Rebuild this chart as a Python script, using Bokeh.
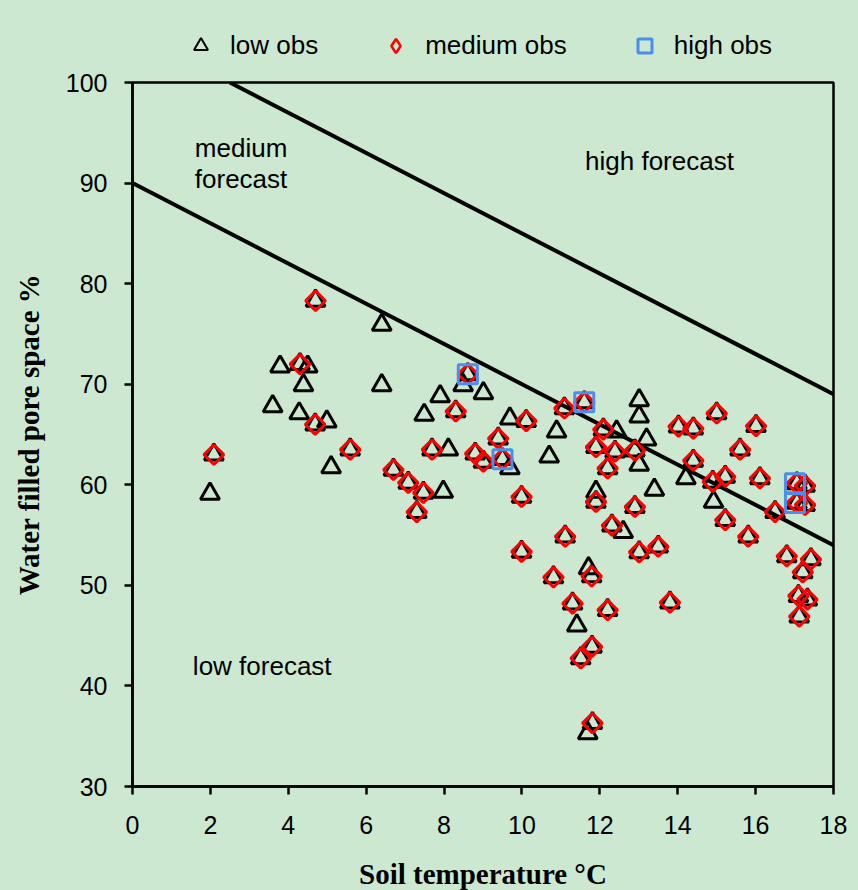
import math
from bokeh.plotting import figure
from bokeh.layouts import column
from bokeh.models import Range1d, FixedTicker, Legend, LegendItem, ColumnDataSource
from bokeh.core.properties import value
from bokeh.embed import file_html
from bokeh.resources import INLINE

# ---- data ----
low_x = [1.99, 3.79, 3.60, 4.50, 4.39, 4.28, 4.99, 5.10, 6.40, 6.40, 7.49, 7.90, 8.49, 9.01,
         8.11, 7.98, 9.69, 9.69, 10.70, 10.89, 12.43, 13.01, 13.01, 13.20, 13.01, 11.90,
         13.40, 14.21, 14.92, 12.60, 11.71, 11.41, 11.69]
low_y = [59.1, 71.75, 67.8, 71.75, 69.9, 67.1, 66.3, 61.75, 75.9, 69.9, 66.95, 68.8, 69.9, 69.1,
         63.5, 59.3, 66.6, 61.65, 62.8, 65.3, 65.3, 68.4, 66.8, 64.5, 62.0, 59.3,
         59.5, 60.65, 58.3, 55.3, 51.7, 46.0, 35.3]

med_x = [4.70, 4.30, 4.69, 2.09, 5.59, 6.70, 7.08, 7.47, 7.30, 7.69, 8.30, 8.61, 8.80, 9.01,
         9.39, 9.50, 10.11, 11.09, 11.60, 12.09, 11.90, 12.39, 12.90, 12.20, 14.02, 14.40,
         15.00, 16.01, 15.60, 14.40, 14.90, 15.22, 16.11, 15.22, 15.81, 16.50, 17.06, 17.27,
         17.06, 17.27, 9.99, 11.90, 12.90, 12.31, 11.11, 9.99, 13.01, 13.50, 10.81, 11.79,
         11.30, 12.20, 13.80, 11.80, 11.51, 11.81, 16.80, 17.42, 17.21, 17.10, 17.33, 17.12]
med_y = [78.3, 72.0, 66.0, 63.0, 63.5, 61.5, 60.2, 59.2, 57.3, 63.5, 67.3, 71.0, 63.1, 62.3,
         64.6, 62.55, 66.35, 67.6, 68.2, 65.5, 63.75, 63.3, 63.4, 61.65, 65.8, 65.6,
         67.1, 65.85, 63.5, 62.4, 60.3, 60.8, 60.65, 56.5, 54.85, 57.3, 60.15, 59.9,
         58.2, 58.0, 58.8, 58.3, 57.8, 55.95, 54.85, 53.35, 53.3, 53.85, 50.8, 50.9,
         48.2, 47.55, 48.3, 43.9, 42.75, 36.3, 52.9, 52.6, 51.3, 48.95, 48.6, 46.9]

high_x = [8.61, 9.50, 11.60, 17.01, 17.01]
high_y = [71.0, 62.55, 68.2, 60.15, 58.2]

# forecast boundary lines (y = 90 - 2x and y = 105 - 2x)
lowmed_x = [0, 18]
lowmed_y = [90, 54]
medhigh_x = [2.5, 18]
medhigh_y = [100, 69]

x_ticks = [0, 2, 4, 6, 8, 10, 12, 14, 16, 18]
y_ticks = [30, 40, 50, 60, 70, 80, 90, 100]

series_names = ["low obs", "medium obs", "high obs"]

region_text = ["medium", "forecast", "high forecast", "low forecast"]
region_x = [1.6, 1.6, 11.62, 1.55]
region_y = [93.45, 90.45, 92.2, 42.0]

BG = "#CDE8D0"
SANS = "Liberation Sans"
SERIF = "Liberation Serif"
BLUE = "#4A8FEF"

src_low = ColumnDataSource(dict(x=low_x + med_x, y=low_y + med_y))
src_med = ColumnDataSource(dict(x=med_x, y=med_y))
src_high = ColumnDataSource(dict(x=high_x, y=high_y))

# ---------------- main chart ----------------
p = figure(frame_width=701, frame_height=704, x_range=Range1d(0, 18), y_range=Range1d(30, 100),
           output_backend="svg", toolbar_location=None,
           min_border_left=132, min_border_right=25, min_border_top=15, min_border_bottom=104,
           background_fill_color=BG, border_fill_color=BG)
p.grid.visible = False
p.outline_line_color = "black"
p.outline_line_width = 2.5

for ax in (p.xaxis[0], p.yaxis[0]):
    ax.axis_line_width = 2.5
    ax.axis_line_color = "black"
    ax.major_tick_line_width = 2.5
    ax.major_tick_line_color = "black"
    ax.major_tick_in = 0
    ax.major_tick_out = 8
    ax.minor_tick_line_color = None
    ax.major_label_text_font = SANS
    ax.major_label_text_font_size = "25px"
    ax.major_label_text_color = "black"
    ax.axis_label_text_font = SERIF
    ax.axis_label_text_font_style = "bold"
    ax.axis_label_text_font_size = "29px"
    ax.axis_label_text_color = "black"

p.xaxis.ticker = FixedTicker(ticks=x_ticks)
p.yaxis.ticker = FixedTicker(ticks=y_ticks)
p.xaxis.axis_label = "Soil temperature °C"
p.yaxis.axis_label = "Water filled pore space %"
p.xaxis.major_label_standoff = 21
p.yaxis.major_label_standoff = 17
p.xaxis.axis_label_standoff = 21
p.yaxis.axis_label_standoff = 18

p.line(lowmed_x, lowmed_y, line_color="black", line_width=4)
p.line(medhigh_x, medhigh_y, line_color="black", line_width=4)

p.text(x=region_x, y=region_y, text=region_text, text_font=value(SANS), text_font_size="26px",
       text_align="left", text_baseline="middle", text_color="black")

p.scatter("x", "y", source=src_low, marker="triangle", size=19,
          line_color="black", line_width=3, fill_color=None)
p.scatter("x", "y", source=src_med, marker="square", angle=math.pi / 4, size=14,
          line_color="#FF0000", line_width=3, fill_color=None)
p.scatter("x", "y", source=src_high, marker="square", size=19,
          line_color=BLUE, line_width=3, fill_color=None)

# ---------------- legend strip ----------------
lf = figure(width=858, height=67, x_range=Range1d(0, 1), y_range=Range1d(0, 1),
            output_backend="svg", toolbar_location=None,
            min_border=0, x_axis_location=None, y_axis_location=None,
            background_fill_color=BG, border_fill_color=BG, outline_line_color=None)
lf.grid.visible = False
# size-0 renderers: invisible in the strip, used only to draw the legend glyphs
lg_low = lf.scatter("x", "y", source=src_low, marker="triangle", size=0,
                    line_color="black", line_width=2, fill_color=None)
lg_med = lf.scatter("x", "y", source=src_med, marker="diamond", size=0,
                    line_color="#FF0000", line_width=2.5, fill_color=None)
lg_high = lf.scatter("x", "y", source=src_high, marker="square", size=0,
                     line_color=BLUE, line_width=3, fill_color=None)

legend = Legend(items=[LegendItem(label=series_names[0], renderers=[lg_low]),
                       LegendItem(label=series_names[1], renderers=[lg_med]),
                       LegendItem(label=series_names[2], renderers=[lg_high])],
                orientation="horizontal", location=(51, 4),
                glyph_width=35, glyph_height=35, label_standoff=12, spacing=60,
                padding=3, margin=0, border_line_color=None, background_fill_alpha=0,
                label_text_font=SANS, label_text_font_size="26px", label_text_color="black")
lf.add_layout(legend, "center")

layout = column(lf, p, spacing=0, styles={"background-color": BG})
open("out.html", "w").write(file_html(layout, INLINE))
